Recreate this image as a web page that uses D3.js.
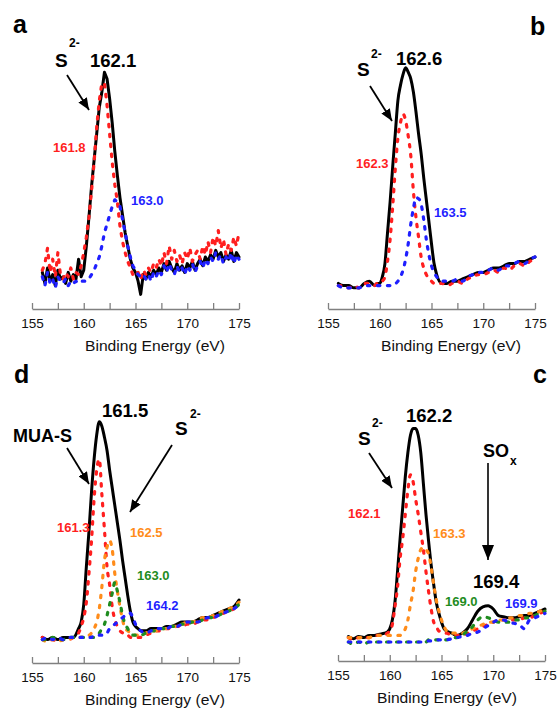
<!DOCTYPE html>
<html>
<head>
<meta charset="utf-8">
<script src="https://cdn.jsdelivr.net/npm/d3@7"></script>
<style>
  body { margin: 0; background: #fff; }
  svg { display: block; }
  text { font-family: "Liberation Sans", Arial, sans-serif; }
</style>
</head>
<body>
<svg id="chart"></svg>
<script>
// ---- data (intensity in arbitrary units, 0..100 ~ peak) ----

// axis
const xTickValues = [155, 157.5, 160, 162.5, 165, 167.5, 170, 172.5, 175];
const xTickLabels = [155, 160, 165, 170, 175];

// panel a uses a finer energy grid (noisy spectrum)
const energyA = [
  156, 156.25, 156.5, 156.75, 157, 157.25, 157.5, 157.75, 158, 158.25,
  158.5, 158.75, 159, 159.25, 159.5, 159.75, 160, 160.25, 160.5, 160.75,
  161, 161.25, 161.5, 161.75, 162, 162.25, 162.5, 162.75, 163, 163.25,
  163.5, 163.75, 164, 164.25, 164.5, 164.75, 165, 165.25, 165.5, 165.75,
  166, 166.25, 166.5, 166.75, 167, 167.25, 167.5, 167.75, 168, 168.25,
  168.5, 168.75, 169, 169.25, 169.5, 169.75, 170, 170.25, 170.5, 170.75,
  171, 171.25, 171.5, 171.75, 172, 172.25, 172.5, 172.75, 173, 173.25,
  173.5, 173.75, 174, 174.25, 174.5, 174.75, 175
];
const aTotal = [
  8, 3, 10, 4, 7, 2, 9, 5, 6, 3,
  8, 4, 7, 5, 14, 6, 9, 20, 33, 47,
  59, 71, 83, 90, 99, 96, 87, 76, 63, 52,
  42, 34, 26, 20, 14, 10, 8, 4, -2, 7,
  5, 8, 6, 9, 7, 10, 8, 12, 9, 13,
  10, 8, 12, 9, 11, 8, 12, 10, 13, 9,
  12, 14, 11, 15, 13, 16, 14, 18, 15, 17,
  13, 16, 14, 18, 13, 17, 15
];
const aFit1618 = [
  9, 12, 19, 8, 14, 6, 17, 7, 5, 8,
  6, 10, 5, 8, 7, 11, 17, 24, 33, 45,
  58, 74, 86, 94, 94, 84, 71, 58, 48, 40,
  29, 22, 17, 13, 10, 7, 6, 8, 5, 9,
  7, 10, 8, 12, 10, 14, 11, 17, 12, 20,
  14, 18, 13, 16, 12, 17, 14, 19, 13, 16,
  18, 14, 20, 16, 22, 17, 24, 20, 27, 19,
  23, 16, 21, 18, 24, 20, 26
];
const aFit1630 = [
  6, 2, 8, 3, 5, 1, 6, 4, 3, 5,
  2, 4, 3, 4, 3, 4, 4, 4, 5, 7,
  9, 12, 15, 20, 26, 30, 34, 38, 41, 40,
  38, 32, 26, 20, 15, 11, 9, 7, 6, 7,
  5, 7, 4, 8, 6, 9, 7, 11, 8, 12,
  9, 7, 11, 8, 10, 7, 11, 9, 12, 8,
  11, 13, 10, 14, 12, 15, 13, 17, 14, 16,
  12, 15, 13, 17, 12, 16, 14
];

// panels b, c, d share this grid
const energy = [
  156, 156.5, 157, 157.5, 158, 158.5, 159, 159.5,
  159.75, 160, 160.25, 160.5, 160.75, 161, 161.25, 161.5, 161.75, 162, 162.25, 162.5,
  162.75, 163, 163.25, 163.5, 163.75, 164, 164.25, 164.5, 164.75, 165, 165.25, 165.5,
  166, 166.5, 167, 167.5, 168, 168.5, 169, 169.5, 170, 170.5, 171, 171.5, 172, 172.5, 173, 173.5, 174, 174.5, 175
];

const bTotal = [
  3, 2, 2, 1, 1, 3, 4, 2,
  3, 3, 6, 12, 26, 40, 56, 71, 86, 93, 98, 101,
  99, 96, 90, 81, 71, 62, 51, 41, 31, 21, 12, 7,
  3, 3, 4, 4, 5, 6, 7, 8, 8, 9, 10, 10, 11, 12, 12, 13, 13, 14, 15
];
const bFit1623 = [
  2, 2, 1, 2, 1, 3, 3, 2,
  3, 3, 4, 6, 13, 23, 38, 55, 69, 76, 80, 77,
  70, 61, 45, 33, 24, 15, 10, 7, 5, 4, 3, 3,
  3, 2, 3, 4, 3, 5, 6, 7, 7, 8, 9, 8, 10, 9, 11, 12, 11, 13, 14
];
const bFit1635 = [
  2, 1, 1, 1, 1, 2, 2, 2,
  2, 2, 2, 2, 2, 2, 3, 3, 4, 6, 9, 14,
  21, 30, 37, 42, 41.5, 39, 32, 23, 16, 11, 8, 6,
  4, 4, 4, 5, 4, 6, 7, 8, 8, 9, 10, 9, 11, 11, 12, 13, 12, 14, 15
];

const dTotal = [
  3, 2, 3, 2, 3, 3, 3, 7,
  10, 18, 35, 51, 69, 84, 95, 101, 99, 94, 88, 79,
  71, 63, 55, 47, 38, 30, 22, 15, 10, 8, 7, 6,
  6, 7, 7, 7, 8, 8, 9, 10, 10, 10, 11, 12, 12, 13, 14, 15, 16, 17, 20
];
const dFit1613 = [
  3, 2, 2, 1, 2, 2, 3, 5,
  8, 12, 19, 32, 47, 66, 79, 84, 68, 52, 35, 27,
  17, 11, 8, 6, 5, 4, 4, 3, 3, 3, 3, 3,
  4, 5, 6, 6, 7, 7, 8, 8, 9, 9, 10, 11, 11, 12, 13, 14, 15, 16, 18
];
const dFit1625 = [
  2, 1, 2, 1, 2, 2, 3, 3,
  3, 3, 4, 4, 5, 7, 10, 16, 26, 38, 44, 47,
  43, 32, 24, 17, 11, 7, 6, 5, 4, 4, 4, 4,
  5, 6, 6, 7, 7, 8, 8, 9, 10, 10, 11, 12, 12, 13, 14, 15, 16, 17, 19
];
const dFit1630 = [
  2, 2, 3, 2, 2, 3, 3, 3,
  3, 3, 3, 3, 3, 3, 4, 5, 7, 9, 13, 18,
  23, 28, 24, 19, 13, 9, 7, 5, 4, 4, 4, 4,
  5, 6, 6, 7, 7, 8, 8, 9, 9, 10, 10, 11, 12, 12, 13, 14, 15, 16, 18
];
const dFit1642 = [
  2, 3, 2, 3, 2, 3, 3, 3,
  3, 3, 3, 3, 3, 4, 4, 4, 4, 4, 5, 7,
  8, 9, 10, 11, 12, 13, 14, 14, 12, 9, 7, 6,
  5, 6, 7, 7, 7, 8, 8, 9, 10, 10, 10, 11, 12, 12, 13, 14, 15, 16, 18
];

const cTotal = [
  2.5, 1.5, 2.5, 2, 3, 3, 3.5, 4,
  4.5, 6, 10, 18, 32, 47, 61, 75, 86, 94, 97, 97,
  94, 86, 72, 58, 46, 35, 26, 18, 13, 9, 6, 5,
  4, 3, 4, 6, 10, 14, 16, 16.5, 15, 12, 11.5, 11, 11, 11.5, 12, 12, 13, 14, 15
];
const cFit1621 = [
  2, 1, 2, 2, 2, 3, 3, 3,
  4, 5, 8, 16, 25, 38, 47, 58, 69, 76, 73, 65,
  58, 50, 42, 32, 23, 15, 9, 7, 5, 4.5, 4, 4,
  3, 3, 3, 4, 5, 6, 7, 8, 9, 10, 10, 10, 10, 10, 11, 11, 12, 13, 14
];
const cFit1633 = [
  2, 2, 2, 2, 2, 3, 3, 3,
  3, 3, 3, 3, 3, 3, 4, 6, 10, 17, 23, 32,
  38, 42, 43, 42, 40, 34, 26, 19, 14, 10, 7, 5,
  4, 4, 4, 5, 6, 7, 8, 9, 9, 10, 10, 11, 11, 12, 12, 13, 13, 14, 15
];
const cFit1690 = [
  0, -1, 0, -1, 0, 0, 0, 0,
  0, 0, 0, 0, 0, 0, 0, 0, 0, 0, 0, 0,
  0, 0, 0, 0, 1, 1, 1, 1, 1, 1, 1, 1,
  2, 2, 3, 5, 7, 10, 11.5, 11, 10, 9, 9, 9, 10, 10, 11, 11, 12, 13, 14
];
const cFit1699 = [
  0, 0, 0, 0, 0, 0, 0, 0,
  0, 0, 0, 0, 0, 0, 0, 0, 0, 0, 0, 0,
  0, 0, 0, 0.5, 0.5, 0.5, 0.5, 1, 1, 1, 1, 1,
  1.5, 2, 2.5, 3, 4, 4.5, 6, 7.5, 9, 10, 10, 9, 8.5, 8, 6, 10, 11, 12, 13
];

// ---- drawing ----
const RED = "#ff1f1f", BLUE = "#1f1fff", ORANGE = "#ff8c1a", GREEN = "#1f8c1f";

const svg = d3.select("#chart").attr("width", 558).attr("height", 711);

const x = d3.scaleLinear().domain([155, 175]).range([0, 207]);
const y = d3.scaleLinear().domain([0, 100]).range([-19, -239]);

const defs = svg.append("defs");
defs.append("marker")
  .attr("id", "head")
  .attr("markerUnits", "userSpaceOnUse")
  .attr("markerWidth", 13).attr("markerHeight", 10)
  .attr("refX", 12).attr("refY", 5)
  .attr("orient", "auto")
  .append("path").attr("d", "M0,0 L12,5 L0,10 Z").attr("fill", "#000");
defs.append("marker")
  .attr("id", "headBig")
  .attr("markerUnits", "userSpaceOnUse")
  .attr("markerWidth", 16).attr("markerHeight", 12)
  .attr("refX", 15).attr("refY", 6)
  .attr("orient", "auto")
  .append("path").attr("d", "M0,0 L15,6 L0,12 Z").attr("fill", "#000");

const panels = [
  {
    left: 32, top: 309, energies: energyA, smooth: false, titleX: 123,
    series: [
      { values: aTotal, color: "#000" },
      { values: aFit1618, color: RED, dashed: true },
      { values: aFit1630, color: BLUE, dashed: true }
    ],
    labels: [
      { t: "a", x: -19, y: -276, size: 25 },
      { t: "S", x: 23, y: -242, size: 19 },
      { t: "2-", x: 37, y: -262, size: 12 },
      { t: "162.1", x: 58, y: -242, size: 18.5 },
      { t: "161.8", x: 21, y: -157, size: 13, color: RED },
      { t: "163.0", x: 99, y: -104, size: 13, color: BLUE }
    ],
    arrows: [[35, -234, 57, -199]]
  },
  {
    left: 328, top: 309, energies: energy, smooth: true, titleX: 123,
    series: [
      { values: bTotal, color: "#000" },
      { values: bFit1623, color: RED, dashed: true },
      { values: bFit1635, color: BLUE, dashed: true }
    ],
    labels: [
      { t: "b", x: 202, y: -274, size: 25 },
      { t: "S", x: 29, y: -233, size: 19 },
      { t: "2-", x: 43, y: -251, size: 12 },
      { t: "162.6", x: 68, y: -244, size: 18.5 },
      { t: "162.3", x: 28, y: -141, size: 13, color: RED },
      { t: "163.5", x: 106, y: -92, size: 13, color: BLUE }
    ],
    arrows: [[42, -223, 64, -188]]
  },
  {
    left: 32, top: 663, energies: energy, smooth: true, titleX: 123,
    series: [
      { values: dTotal, color: "#000" },
      { values: dFit1613, color: RED, dashed: true },
      { values: dFit1625, color: ORANGE, dashed: true },
      { values: dFit1630, color: GREEN, dashed: true },
      { values: dFit1642, color: BLUE, dashed: true }
    ],
    labels: [
      { t: "d", x: -18, y: -280, size: 25 },
      { t: "161.5", x: 70, y: -246, size: 18.5 },
      { t: "MUA-S", x: -19, y: -221, size: 18 },
      { t: "S", x: 143, y: -228, size: 19 },
      { t: "2-", x: 158, y: -245, size: 12 },
      { t: "161.3", x: 25, y: -131, size: 13, color: RED },
      { t: "162.5", x: 98, y: -126, size: 13, color: ORANGE },
      { t: "163.0", x: 105, y: -83, size: 13, color: GREEN },
      { t: "164.2", x: 114, y: -53, size: 13, color: BLUE }
    ],
    arrows: [[35, -215, 57, -179], [140, -218, 98, -151]]
  },
  {
    left: 338, top: 661, energies: energy, smooth: true, titleX: 109,
    series: [
      { values: cTotal, color: "#000" },
      { values: cFit1621, color: RED, dashed: true },
      { values: cFit1633, color: ORANGE, dashed: true },
      { values: cFit1690, color: GREEN, dashed: true },
      { values: cFit1699, color: BLUE, dashed: true }
    ],
    labels: [
      { t: "c", x: 195, y: -278, size: 25 },
      { t: "S", x: 20, y: -216, size: 19 },
      { t: "2-", x: 34, y: -234, size: 12 },
      { t: "162.2", x: 68, y: -239, size: 18.5 },
      { t: "162.1", x: 10, y: -143, size: 13, color: RED },
      { t: "163.3", x: 95, y: -123, size: 13, color: ORANGE },
      { t: "SO", x: 145, y: -204, size: 18 },
      { t: "x", x: 172, y: -196, size: 12 },
      { t: "169.4", x: 135, y: -73, size: 18.5 },
      { t: "169.0", x: 107, y: -55, size: 13, color: GREEN },
      { t: "169.9", x: 167, y: -53, size: 13, color: BLUE }
    ],
    arrows: [[31, -208, 54, -173]],
    bigArrows: [[150, -198, 150, -101]]
  }
];

function drawPanel(p) {
  const g = svg.append("g").attr("transform", "translate(" + p.left + "," + p.top + ")");

  const axis = d3.axisBottom(x)
    .tickValues(xTickValues)
    .tickFormat(d => xTickLabels.includes(d) ? d : "")
    .tickSizeInner(-6)
    .tickSizeOuter(0)
    .tickPadding(9);
  const ax = g.append("g").call(axis)
    .attr("font-family", null).attr("font-size", null);
  ax.select(".domain").attr("stroke", "#808080").attr("stroke-width", 1.3);
  ax.selectAll(".tick line").attr("stroke", "#808080").attr("stroke-width", 1.3);
  ax.selectAll(".tick text").attr("fill", "#111").attr("font-size", 13.5);

  g.append("text")
    .attr("x", p.titleX).attr("y", 42)
    .attr("text-anchor", "middle")
    .attr("font-size", 14)
    .attr("textLength", 140).attr("lengthAdjust", "spacingAndGlyphs")
    .attr("fill", "#111")
    .text("Binding Energy (eV)");

  const line = d3.line()
    .x((d, i) => x(p.energies[i]))
    .y(d => y(d))
    .curve(p.smooth ? d3.curveMonotoneX : d3.curveLinear);

  p.series.forEach(s => {
    g.append("path")
      .datum(s.values)
      .attr("fill", "none")
      .attr("stroke", s.color)
      .attr("stroke-width", s.dashed ? 3.2 : 3)
      .attr("stroke-linejoin", "round")
      .attr("stroke-linecap", "round")
      .attr("stroke-dasharray", s.dashed ? "2.5,7.5" : null)
      .attr("d", line);
  });

  p.arrows.forEach(a => {
    g.append("line")
      .attr("x1", a[0]).attr("y1", a[1]).attr("x2", a[2]).attr("y2", a[3])
      .attr("stroke", "#000").attr("stroke-width", 1.8)
      .attr("marker-end", "url(#head)");
  });
  (p.bigArrows || []).forEach(a => {
    g.append("line")
      .attr("x1", a[0]).attr("y1", a[1]).attr("x2", a[2]).attr("y2", a[3])
      .attr("stroke", "#000").attr("stroke-width", 1.6)
      .attr("marker-end", "url(#headBig)");
  });

  p.labels.forEach(l => {
    g.append("text")
      .attr("x", l.x).attr("y", l.y)
      .attr("font-size", l.size)
      .attr("font-weight", "bold")
      .attr("fill", l.color || "#000")
      .text(l.t);
  });
}

panels.forEach(drawPanel);
</script>
</body>
</html>
